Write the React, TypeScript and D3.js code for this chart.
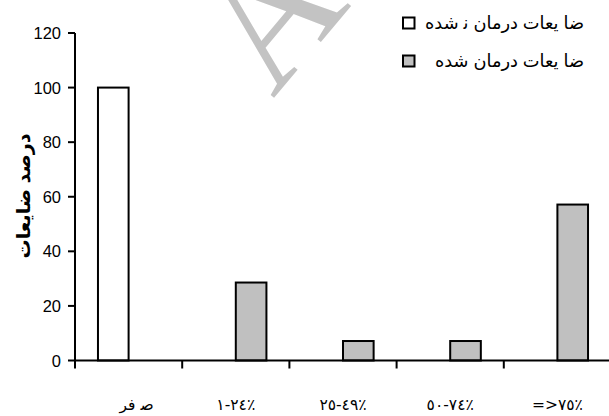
import React from "react";
import * as d3 from "d3";

const categories = ["ﺻ ﻓﺮ", "١-٢٤٪", "٢٥-٤٩٪", "٥٠-٧٤٪", "=>٧٥٪"];
const seriesNames = ["ضا یعات درمان  ﻧ شده", "ضا یعات درمان  شده"];
const untreated = [100, 0, 0, 0, 0];
const treated = [0, 28.57, 7.14, 7.14, 57.14];
const yTicks = [0, 20, 40, 60, 80, 100, 120];
const yTitle = "درصد ضایعات";
const watermark = "A";

const W = 609;
const H = 416;
const fills = ["#ffffff", "#c0c0c0"];

export default function App() {
  const x = d3.scaleBand<string>().domain(categories).range([75, 75 + 5 * 107.2]).padding(0);
  const xs = d3
    .scaleBand<string>()
    .domain(seriesNames)
    .range([0, x.bandwidth()])
    .paddingInner(0)
    .paddingOuter(0.75);
  const y = d3.scaleLinear().domain([0, 120]).range([360.5, 33]);
  const series = [untreated, treated];
  const sans = "Arial, 'Liberation Sans', 'DejaVu Sans', sans-serif";

  return (
    <svg
      width={W}
      height={H}
      style={{ position: "absolute", left: 0, top: 0, background: "#fff" }}
    >
      <text
        transform="translate(273,99) rotate(-50)"
        fontFamily="'Liberation Serif', 'Times New Roman', serif"
        fontSize={170}
        fill="#c3c3c3"
      >
        {watermark}
      </text>

      {/* bars */}
      {series.map((vals, si) =>
        vals.map((v, ci) =>
          v > 0 ? (
            <rect
              key={`${si}-${ci}`}
              x={(x(categories[ci]) as number) + (xs(seriesNames[si]) as number)}
              y={y(v)}
              width={xs.bandwidth()}
              height={y(0) - y(v)}
              fill={fills[si]}
              stroke="#000"
              strokeWidth={2}
            />
          ) : null
        )
      )}

      {/* y axis */}
      <line x1={75} x2={75} y1={y(120)} y2={y(0)} stroke="#000" strokeWidth={2} />
      {yTicks.map((t) => (
        <g key={t}>
          <line x1={68} x2={75} y1={y(t)} y2={y(t)} stroke="#000" strokeWidth={2} />
          <text
            x={61}
            y={y(t)}
            textAnchor="end"
            dominantBaseline="central"
            fontFamily={sans}
            fontSize={16.5}
            fill="#000"
          >
            {t}
          </text>
        </g>
      ))}

      {/* x axis */}
      <line x1={74} x2={W} y1={y(0)} y2={y(0)} stroke="#000" strokeWidth={2} />
      {categories.map((c) => (
        <line
          key={c}
          x1={x(c) as number}
          x2={x(c) as number}
          y1={y(0)}
          y2={y(0) + 8}
          stroke="#000"
          strokeWidth={2}
        />
      ))}
      {categories.map((c) => {
        const numeric = /[\u0660-\u0669]/.test(c);
        return (
          <text
            key={c}
            x={(x(c) as number) + x.bandwidth() / 2 + (numeric ? 0 : 8)}
            y={410}
            textAnchor="middle"
            style={numeric ? { direction: "ltr", unicodeBidi: "bidi-override" } : undefined}
            fontFamily="'DejaVu Sans', sans-serif"
            fontSize={15.5}
            fill="#000"
          >
            {c}
          </text>
        );
      })}

      {/* y title */}
      <text
        transform="translate(23,196) rotate(-90)"
        textAnchor="middle"
        dominantBaseline="central"
        fontFamily={sans}
        fontWeight="bold"
        fontSize={19}
        fill="#000"
      >
        {yTitle}
      </text>

      {/* legend */}
      {seriesNames.map((s, i) => (
        <g key={s} transform={`translate(0,${i * 38})`}>
          <rect x={403} y={17.5} width={11.5} height={11} fill={fills[i]} stroke="#000" strokeWidth={2} />
          <text
            x={584}
            y={23}
            textAnchor="end"
            dominantBaseline="central"
            fontFamily={sans}
            fontSize={17.8}
            fill="#000"
          >
            {s}
          </text>
        </g>
      ))}
    </svg>
  );
}
